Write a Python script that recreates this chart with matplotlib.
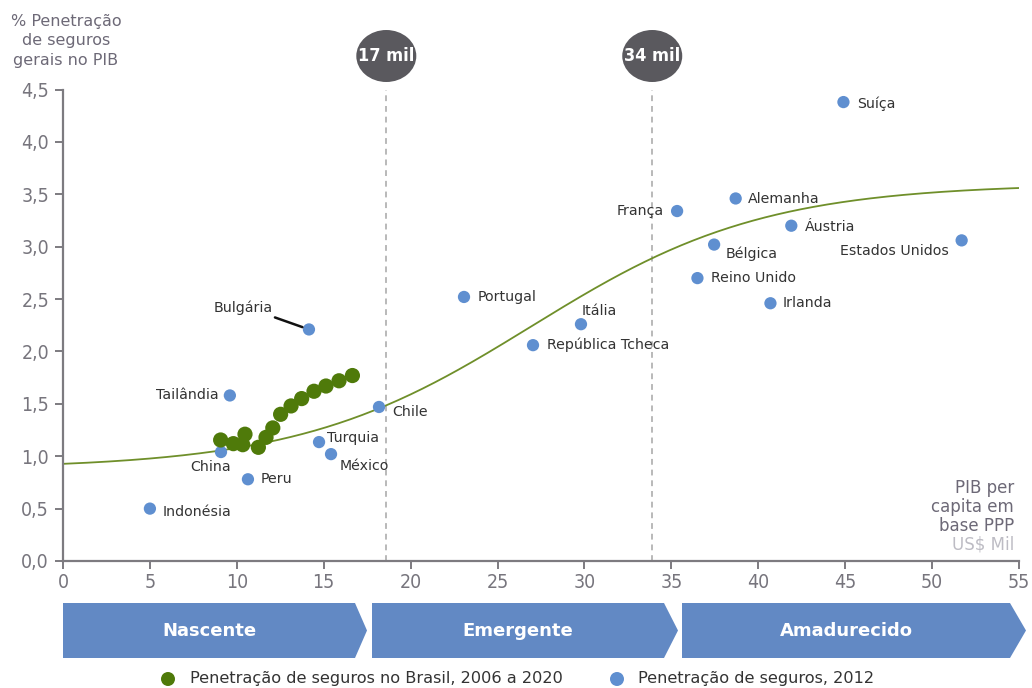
import numpy as np
import matplotlib
matplotlib.use("Agg")
import matplotlib.pyplot as plt
from matplotlib import font_manager as fm
from matplotlib.patches import Ellipse, Polygon

# Brazil, 2006 to 2020: GDP per capita (US$ thousand, PPP) vs. non-life penetration (%)
brasil_pib = [9.07, 9.8, 10.34, 10.47, 11.24, 11.68, 12.07, 12.52, 13.12, 13.73, 14.44, 15.13, 15.88, 16.65]
brasil_pen = [1.155, 1.12, 1.11, 1.21, 1.085, 1.18, 1.27, 1.40, 1.48, 1.55, 1.62, 1.67, 1.72, 1.77]

# Countries, 2012
paises = ["Indonésia", "China", "Peru", "Tailândia", "Bulgária", "Turquia", "México", "Chile",
          "Portugal", "República Tcheca", "Itália", "França", "Alemanha", "Bélgica",
          "Reino Unido", "Áustria", "Irlanda", "Suíça", "Estados Unidos"]
paises_pib = [5.0, 9.09, 10.64, 9.6, 14.15, 14.73, 15.42, 18.18,
              23.07, 27.04, 29.8, 35.33, 38.7, 37.46,
              36.5, 41.9, 40.7, 44.9, 51.7]
paises_pen = [0.50, 1.04, 0.78, 1.58, 2.21, 1.135, 1.02, 1.47,
              2.52, 2.06, 2.26, 3.34, 3.46, 3.02,
              2.70, 3.20, 2.46, 4.38, 3.06]

# S-curve (logistic trend) parameters
curva_min, curva_max, curva_centro, curva_escala = 0.88, 3.60, 26.95, 6.68

limiares = [18.6, 33.9]
limiares_rotulos = ["17 mil", "34 mil"]
estagios = ["Nascente", "Emergente", "Amadurecido"]

x_ticks = list(range(0, 56, 5))
y_ticks = [0.0, 0.5, 1.0, 1.5, 2.0, 2.5, 3.0, 3.5, 4.0, 4.5]

AZUL = "#5f8fd0"
VERDE = "#4f7a0a"
CURVA = "#6f8f2a"
CINZA_EIXO = "#7d7b80"
CINZA_TXT = "#333333"
ROXO = "#6d6977"
SETA = "#6289c4"

# Pick a narrow face for the numeric labels when one is installed
nomes = {f.name for f in fm.fontManager.ttflist}
tem_dejavu_cond = any("DejaVuSansCondensed" in f.fname for f in fm.fontManager.ttflist)
if "Liberation Sans Narrow" in nomes:
    ESTREITA = dict(family=["Liberation Sans Narrow", "DejaVu Sans"])
elif tem_dejavu_cond:
    ESTREITA = dict(family=["DejaVu Sans"], stretch="condensed")
else:
    ESTREITA = dict(family=["Roboto", "DejaVu Sans"])

plt.rcParams["font.family"] = ["DejaVu Sans"]

W, H = 1032, 688
fig = plt.figure(figsize=(W / 100, H / 100), dpi=100)
ax = fig.add_axes([63 / W, 1 - 561 / H, (1019 - 63) / W, (561 - 89.5) / H])
ax.set_xlim(0, 55)
ax.set_ylim(0, 4.5)
for s in ["top", "right"]:
    ax.spines[s].set_visible(False)
for s in ["left", "bottom"]:
    ax.spines[s].set_color(CINZA_EIXO)
    ax.spines[s].set_linewidth(1.6)
ax.set_xticks(x_ticks)
ax.set_xticklabels([str(v) for v in x_ticks])
ax.set_yticks(y_ticks)
ax.set_yticklabels([f"{v:.1f}".replace(".", ",") for v in y_ticks])
ax.tick_params(axis="both", colors=CINZA_EIXO, labelcolor="#77757d",
               length=6, width=1.4, direction="out")
ax.tick_params(axis="x", pad=3)
ax.tick_params(axis="y", pad=4)
for lab in ax.get_xticklabels() + ax.get_yticklabels():
    lab.set_fontsize(14)
    lab.set_family(ESTREITA["family"])
    if "stretch" in ESTREITA:
        lab.set_stretch(ESTREITA["stretch"])

# Threshold lines
for xv in limiares:
    ax.axvline(xv, ymin=0, ymax=1.0, color="#b9b9b9", lw=1.4, ls=(0, (3, 2.5)), zorder=1)

# Trend curve
xs = np.linspace(0, 55, 400)
ys = curva_min + (curva_max - curva_min) / (1 + np.exp(-(xs - curva_centro) / curva_escala))
ax.plot(xs, ys, color=CURVA, lw=1.3, zorder=2)

ax.scatter(paises_pib, paises_pen, s=78, color=AZUL, edgecolors="none", zorder=3, clip_on=False)
ax.scatter(brasil_pib, brasil_pen, s=120, color=VERDE, edgecolors="none", zorder=4)

# Country labels (offsets in pixels)
rot = {
    "Indonésia": (13, -3, "left"),
    "China": (-10, -15, "center"),
    "Peru": (13, 0, "left"),
    "Tailândia": (-11, 0, "right"),
    "Bulgária": (-66, 22, "center"),
    "Turquia": (8, 4, "left"),
    "México": (9, -12, "left"),
    "Chile": (13, -5, "left"),
    "Portugal": (14, 0, "left"),
    "República Tcheca": (14, 0, "left"),
    "Itália": (1, 13, "left"),
    "França": (-13, 0, "right"),
    "Alemanha": (12, -1, "left"),
    "Bélgica": (12, -9, "left"),
    "Reino Unido": (14, 0, "left"),
    "Áustria": (14, -1, "left"),
    "Irlanda": (12, 0, "left"),
    "Suíça": (14, -2, "left"),
    "Estados Unidos": (-13, -11, "right"),
}
for nome, xv, yv in zip(paises, paises_pib, paises_pen):
    dx, dy, ha = rot[nome]
    ax.annotate(nome, (xv, yv), xytext=(dx, dy), textcoords="offset pixels",
                ha=ha, va="center", fontsize=10.2, color=CINZA_TXT, zorder=5)

# Leader line for Bulgária
ax.annotate("", (14.15, 2.21), xytext=(-34, 12), textcoords="offset pixels",
            arrowprops=dict(arrowstyle="-", color="#111111", lw=1.8, shrinkA=0, shrinkB=5))

# Axis captions
fig.text(66 / W, 1 - 41 / H, "% Penetração\nde seguros\ngerais no PIB", ha="center", va="center",
         fontsize=11.5, color=ROXO, linespacing=1.35)
fig.text(1014 / W, 1 - 507 / H, "PIB per\ncapita em\nbase PPP", ha="right", va="center",
         fontsize=12, color=ROXO, linespacing=1.05)
fig.text(1014 / W, 1 - 544 / H, "US$ Mil", ha="right", va="center", fontsize=12, color="#bdbcc4")

# Threshold badges
for xv, txt in zip(limiares, limiares_rotulos):
    xp = ax.transData.transform((xv, 0))[0]
    e = Ellipse((xp / W, 1 - 56 / H), 60 / W, 52 / H, transform=fig.transFigure,
                facecolor="#5a595e", edgecolor="none")
    fig.patches.append(e)
    t = fig.text(xp / W, 1 - 56 / H, txt, ha="center", va="center", fontsize=13,
                 fontweight="bold", color="white", family=ESTREITA["family"])
    if "stretch" in ESTREITA:
        t.set_stretch(ESTREITA["stretch"])

# Stage arrows
top, bot = 1 - 603 / H, 1 - 658 / H
mid = (top + bot) / 2
faixas = [(63, 355, 367), (372, 664, 678), (682, 1010, 1026)]
for (x0, x1, x2), nome in zip(faixas, estagios):
    pts = [(x0 / W, top), (x1 / W, top), (x2 / W, mid), (x1 / W, bot), (x0 / W, bot)]
    fig.patches.append(Polygon(pts, closed=True, transform=fig.transFigure,
                               facecolor=SETA, edgecolor="none"))
    fig.text((x0 + x1) / 2 / W, mid, nome, ha="center", va="center", fontsize=13,
             fontweight="bold", color="white")

# Legend
fig.patches.append(Ellipse((168 / W, 1 - 679 / H), 14 / W, 14 / H, transform=fig.transFigure,
                           facecolor=VERDE, edgecolor="none"))
fig.text(190 / W, 1 - 679 / H, "Penetração de seguros no Brasil, 2006 a 2020", ha="left",
         va="center", fontsize=11.6, color=CINZA_TXT)
fig.patches.append(Ellipse((617 / W, 1 - 679 / H), 14 / W, 14 / H, transform=fig.transFigure,
                           facecolor=AZUL, edgecolor="none"))
fig.text(638 / W, 1 - 679 / H, "Penetração de seguros, 2012", ha="left",
         va="center", fontsize=11.6, color=CINZA_TXT)

fig.savefig("out.png", dpi=100)
